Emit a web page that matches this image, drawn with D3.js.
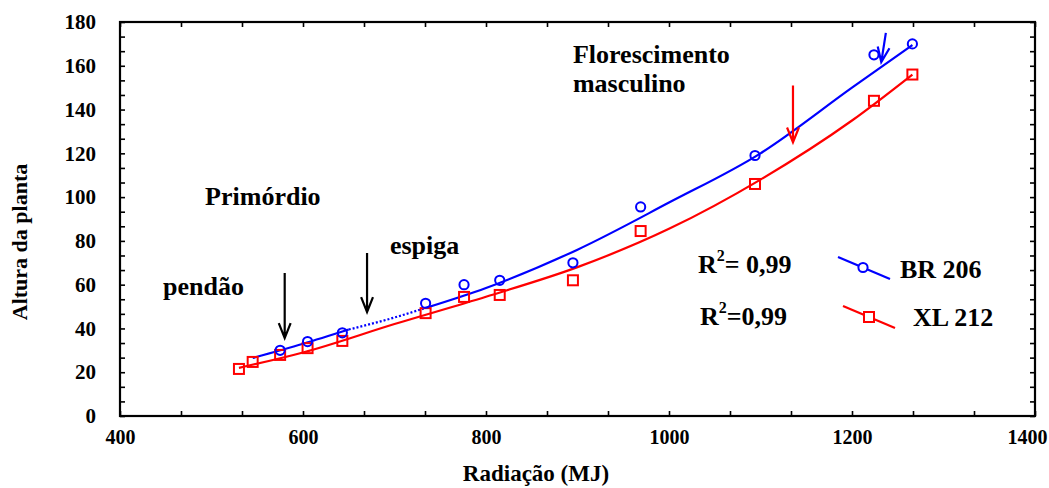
<!DOCTYPE html>
<html>
<head>
<meta charset="utf-8">
<script src="https://cdn.jsdelivr.net/npm/d3@7"></script>
<style>
body { margin: 0; background: #fff; }
text { font-family: "Liberation Serif", "Times New Roman", serif; font-weight: bold; fill: #000; }
</style>
</head>
<body>
<svg id="chart" width="1049" height="488"></svg>
<script>
// Plant height vs accumulated radiation for two maize hybrids

// observed points
var radXL = [530, 545, 575, 605, 643, 734, 776, 815, 895, 969, 1094, 1224, 1266];
var alturaXL = [21.5, 24.7, 27.9, 31, 34.3, 47, 54.4, 55.3, 62, 84.5, 106, 144, 156];
var radBR = [575, 605, 643, 734, 776, 815, 895, 969, 1094, 1224, 1266];
var alturaBR = [30, 34, 38, 51.5, 60, 62, 70, 95.5, 119, 165, 170];

// fitted curves
var fitRadBR = [545, 600, 650, 700, 735, 800, 900, 1000, 1100, 1200, 1266];
var fitBR = [26.5, 33, 39.5, 45, 49.5, 58.5, 76, 97.5, 120, 150, 169.5];
var fitRadXL = [530, 600, 700, 800, 900, 1000, 1100, 1200, 1266];
var fitXL = [22, 29, 42, 54.5, 68, 85.5, 108, 135, 156];
// part of the BR 206 curve drawn dotted
var dottedFrom = 650, dottedTo = 735;

// axis ticks
var xLabels = [400, 600, 800, 1000, 1200, 1400];
var yLabels = [0, 20, 40, 60, 80, 100, 120, 140, 160, 180];

// annotations (data coordinates)
var notes = [
    {text: "Primórdio", x: 493, y: 96.4},
    {text: "pendão", x: 447, y: 55.3},
    {text: "espiga", x: 695, y: 74},
    {text: "Florescimento", x: 895, y: 161.3},
    {text: "masculino", x: 895, y: 148}
];
var arrows = [
    {x1: 580, y1: 65.3, x2: 580, y2: 35.6, color: "#000"},
    {x1: 670, y1: 74.5, x2: 670, y2: 47.5, color: "#000"},
    {x1: 1135.5, y1: 151, x2: 1135.5, y2: 125, color: "#ff0000"},
    {x1: 1237, y1: 175, x2: 1232, y2: 161.7, color: "#0000ff"}
];

var blue = "#0000ff", red = "#ff0000";
var mLeft = 120, mRight = 1035, mTop = 22, mBottom = 416;

var svg = d3.select("#chart");

var x = d3.scaleLinear().domain([400, 1400]).range([mLeft, mRight]);
var y = d3.scaleLinear().domain([0, 180]).range([mBottom, mTop]);

// minor ticks every third of a major step
var xTicks = d3.range(0, 16).map(function(i) { return 400 + i * 200 / 3; });
var yTicks = d3.range(0, 28).map(function(i) { return i * 20 / 3; });

function tickAxis(axis, tx, ty, vals) {
    var g = svg.append("g").
        attr("transform", "translate(" + tx + "," + ty + ")").
        call(axis.tickValues(vals).tickSize(-5).tickFormat(""));
    g.select(".domain").remove();
    g.selectAll("line").attr("stroke", "#000").attr("stroke-width", 1.6);
}
tickAxis(d3.axisBottom(x), 0, mBottom, xTicks);
tickAxis(d3.axisTop(x), 0, mTop, xTicks);
tickAxis(d3.axisLeft(y), mLeft, 0, yTicks);
tickAxis(d3.axisRight(y), mRight, 0, yTicks);

// frame
svg.append("rect").
    attr("x", mLeft).attr("y", mTop).
    attr("width", mRight - mLeft).attr("height", mBottom - mTop).
    attr("fill", "none").attr("stroke", "#000").attr("stroke-width", 2.2);

// tick labels
var xl = svg.append("g").
    attr("transform", "translate(0," + mBottom + ")").
    call(d3.axisBottom(x).tickValues(xLabels).tickSize(0).tickPadding(14).tickFormat(d3.format("d")));
xl.select(".domain").remove();
xl.attr("font-size", 20).attr("font-family", null);
// last label sits against the page edge
xl.selectAll("text").filter(function(d) { return d === 1400; }).
    attr("text-anchor", "end").attr("x", 1047 - mRight);

var yl = svg.append("g").
    attr("transform", "translate(" + mLeft + ",0)").
    call(d3.axisLeft(y).tickValues(yLabels).tickSize(0).tickPadding(24).tickFormat(d3.format("d")));
yl.select(".domain").remove();
yl.attr("font-size", 21).attr("font-family", null);

// axis titles
svg.append("text").
    attr("transform", "translate(27," + ((mTop + mBottom) / 2 + 23) + ") rotate(-90)").
    attr("text-anchor", "middle").
    style("font-size", "22px").
    text("Altura da planta");
svg.append("text").
    attr("x", 536).attr("y", 481).
    attr("text-anchor", "middle").
    style("font-size", "23px").
    text("Radiação (MJ)");

// fitted curves
var line = d3.line().
    x(function(d) { return x(d[0]); }).
    y(function(d) { return y(d[1]); }).
    curve(d3.curveMonotoneX);

var brPts = fitRadBR.map(function(r, i) { return [r, fitBR[i]]; });
var xlPts = fitRadXL.map(function(r, i) { return [r, fitXL[i]]; });

svg.append("path").
    attr("d", line(xlPts)).
    attr("fill", "none").attr("stroke", red).attr("stroke-width", 2.2);

svg.append("path").
    attr("d", line.defined(function(d) { return d[0] <= dottedFrom || d[0] >= dottedTo; })(brPts)).
    attr("fill", "none").attr("stroke", blue).attr("stroke-width", 2.2);
svg.append("path").
    attr("d", line.defined(function(d) { return d[0] >= dottedFrom && d[0] <= dottedTo; })(brPts)).
    attr("fill", "none").attr("stroke", blue).attr("stroke-width", 2.2).
    attr("stroke-dasharray", "2,2");
line.defined(function() { return true; });

// observed points
svg.selectAll(".sq").
    data(radXL.map(function(r, i) { return [r, alturaXL[i]]; })).
    enter().append("rect").
    attr("class", "sq").
    attr("x", function(d) { return x(d[0]) - 5; }).
    attr("y", function(d) { return y(d[1]) - 5; }).
    attr("width", 10).attr("height", 10).
    attr("fill", "none").attr("stroke", red).attr("stroke-width", 2);

svg.selectAll(".ci").
    data(radBR.map(function(r, i) { return [r, alturaBR[i]]; })).
    enter().append("circle").
    attr("class", "ci").
    attr("cx", function(d) { return x(d[0]); }).
    attr("cy", function(d) { return y(d[1]); }).
    attr("r", 4.6).
    attr("fill", "none").attr("stroke", blue).attr("stroke-width", 2);

// arrows
arrows.forEach(function(a) {
    var x1 = x(a.x1), y1 = y(a.y1), x2 = x(a.x2), y2 = y(a.y2);
    var ang = Math.atan2(y2 - y1, x2 - x1);
    var len = 16, spread = 0.38;
    var p = d3.path();
    p.moveTo(x1, y1); p.lineTo(x2, y2);
    p.moveTo(x2 - len * Math.cos(ang - spread), y2 - len * Math.sin(ang - spread));
    p.lineTo(x2, y2);
    p.lineTo(x2 - len * Math.cos(ang + spread), y2 - len * Math.sin(ang + spread));
    svg.append("path").
        attr("d", p.toString()).
        attr("fill", "none").attr("stroke", a.color).attr("stroke-width", 2.2);
});

// annotations
svg.selectAll(".note").
    data(notes).
    enter().append("text").
    attr("class", "note").
    attr("x", function(d) { return x(d.x); }).
    attr("y", function(d) { return y(d.y); }).
    style("font-size", "26px").
    text(function(d) { return d.text; });

// legend
function rsq(px, py, rest) {
    var t = svg.append("text").attr("x", px).attr("y", py).style("font-size", "26px");
    t.append("tspan").text("R");
    t.append("tspan").attr("dy", -12).style("font-size", "16px").text("2");
    t.append("tspan").attr("dy", 12).text(rest);
}
rsq(698, 273, "= 0,99");
rsq(700, 325, "=0,99");

svg.append("line").attr("x1", 838).attr("y1", 257).attr("x2", 890).attr("y2", 279).
    attr("stroke", blue).attr("stroke-width", 2.2);
svg.append("circle").attr("cx", 863).attr("cy", 267.5).attr("r", 4.6).
    attr("fill", "#fff").attr("stroke", blue).attr("stroke-width", 2);
svg.append("text").attr("x", 900).attr("y", 278).style("font-size", "26px").text("BR 206");

svg.append("line").attr("x1", 843).attr("y1", 306).attr("x2", 895).attr("y2", 328).
    attr("stroke", red).attr("stroke-width", 2.2);
svg.append("rect").attr("x", 864).attr("y", 312).attr("width", 10).attr("height", 10).
    attr("fill", "#fff").attr("stroke", red).attr("stroke-width", 2);
svg.append("text").attr("x", 913).attr("y", 326).style("font-size", "26px").text("XL 212");
</script>
</body>
</html>
